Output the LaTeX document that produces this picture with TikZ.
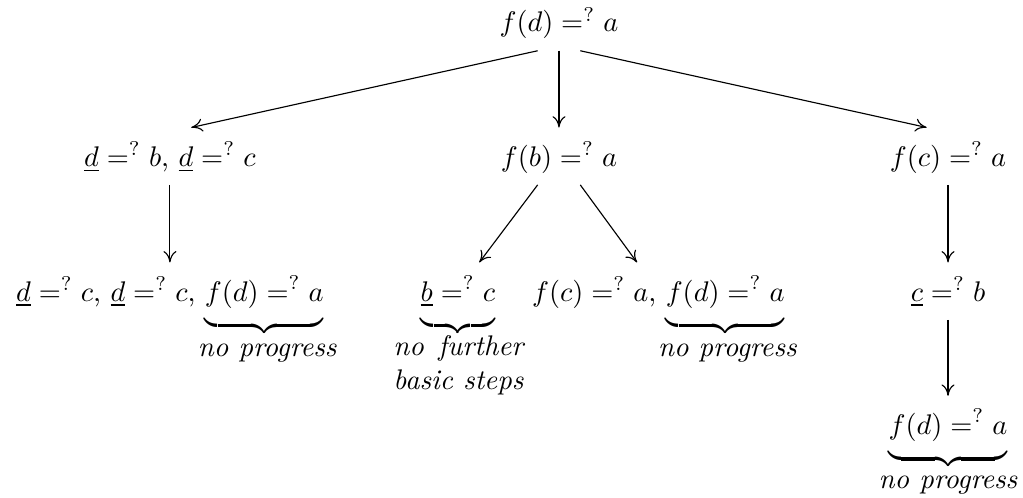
\documentclass[tikz,border=0pt]{standalone}
\usepackage{amsmath}
\usepackage{amssymb}
\usepackage{calc}
\usetikzlibrary{arrows.meta}

\newcommand{\ub}[1]{\underbrace{#1\rule[-5pt]{0pt}{5pt}}}

\begin{document}
\begin{tikzpicture}[
            term/.style={anchor=base, text height=9.5pt, text depth=2.5pt, inner ysep=3.9pt},
            note/.style={anchor=base, font=\itshape, align=center, inner sep=0pt},
            derive/.style={-{To[length=4pt,width=4.6pt]}}
        ]
            \useasboundingbox (-6.918,0.396) rectangle (5.743,-5.767);

            \node[term] (fd)    at (0,0)        {$f(d) =^? a$};
            \node[term] (dd)    at (-4.815,-1.66) {$\underline{d} =^? b$, $\underline{d} =^? c$};
            \node[term] (fb)    at (0,-1.66)    {$f(b) =^? a$};
            \node[term] (fc)    at (4.815,-1.66)  {$f(c) =^? a$};
            \node[term] (ddf)   at (-4.815,-3.33) {$\underline{d} =^? c$, $\underline{d} =^? c$, $\ub{f(d) =^? a}$};
            \node[term] (bc)    at (-1.25,-3.33)  {$\ub{\underline{b} =^? c}$};
            \node[term] (fcfd)  at (1.23,-3.33)   {$f(c) =^? a$, $\ub{f(d) =^? a}$};
            \node[term] (cb)    at (4.815,-3.33)  {$\underline{c} =^? b$};
            \node[term] (fdend) at (4.815,-4.98)  {$\ub{f(d) =^? a}$};

            \node[note] (np1) at (-3.61,-4.02) {no progress};
            \node[note] (nfb) at (-1.244,-4.42) {\makebox[\widthof{basic steps}][s]{no further}\\ basic steps};
            \node[note] (np2) at (2.085,-4.02) {no progress};
            \node[note] (np3) at (4.815,-5.65) {no progress};

            \draw[derive] ([xshift=-7.5pt]fd.south) -- ([xshift=7.5pt]dd.north);
            \draw[derive] (fd.south) -- (fb.north);
            \draw[derive] ([xshift=7.5pt]fd.south) -- ([xshift=-7.5pt]fc.north);
            \draw[derive] (dd.south) -- (ddf.north);
            \draw[derive] ([xshift=-7.5pt]fb.south) -- ([xshift=7.5pt]bc.north);
            \draw[derive] ([xshift=7.5pt]fb.south) -- ([xshift=-7.5pt]fcfd.north);
            \draw[derive] (fc.south) -- (cb.north);
            \draw[derive] (cb.south) -- (fdend.north);
        \end{tikzpicture}
\end{document}
